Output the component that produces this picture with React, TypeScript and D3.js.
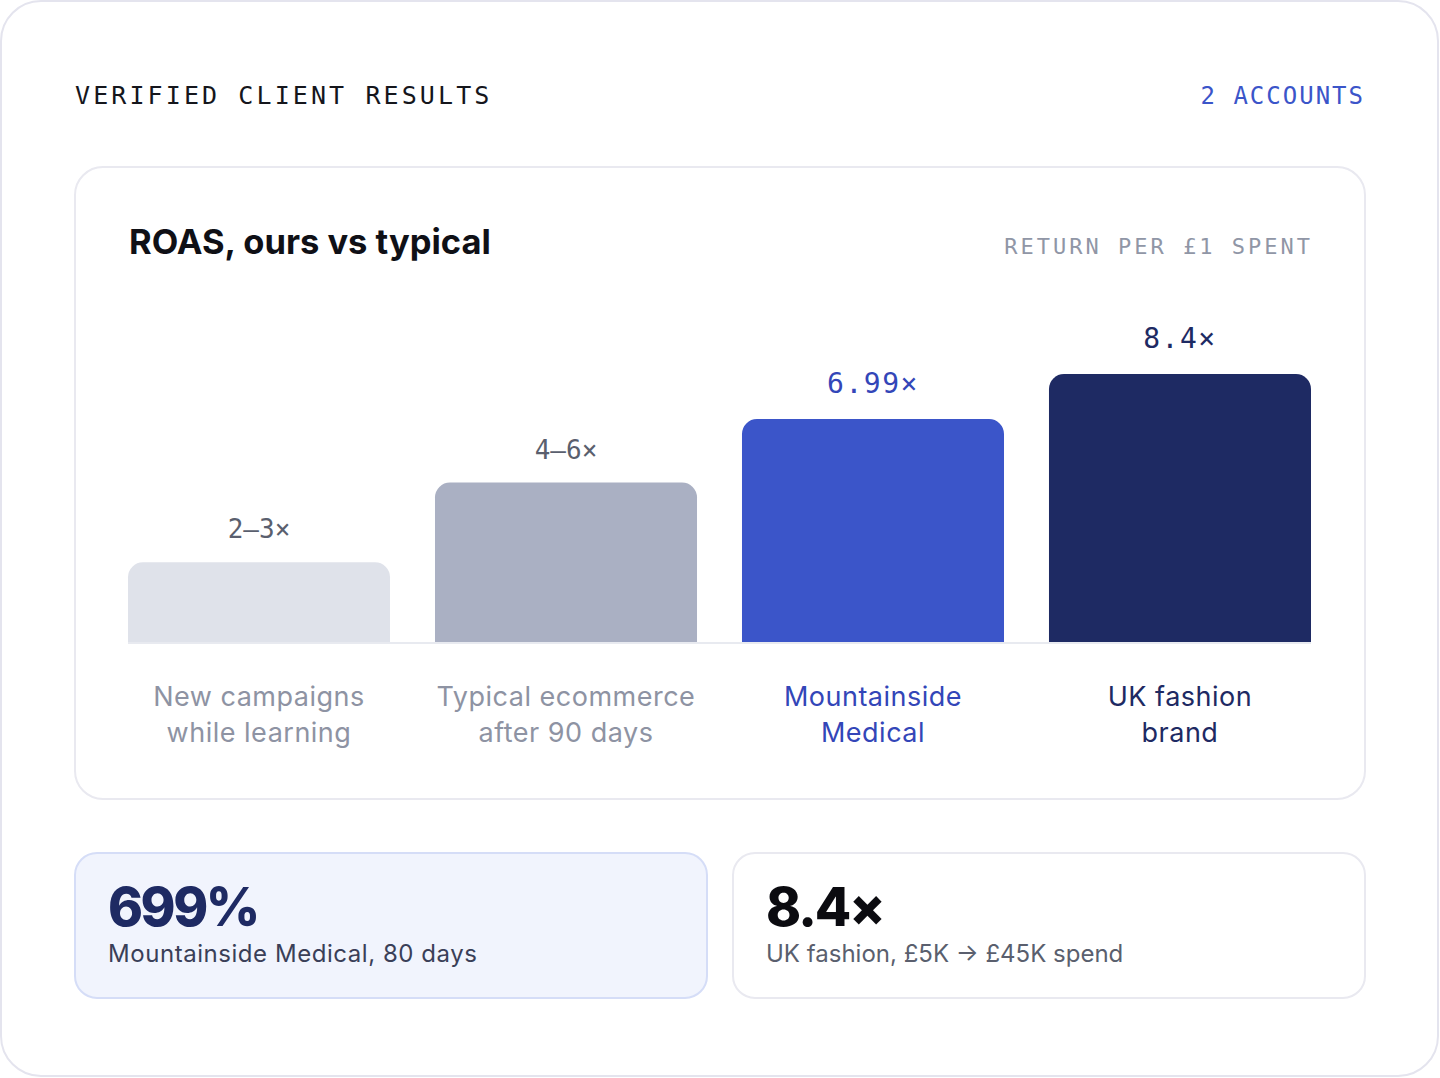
import * as d3 from "d3";

const categories = ["New campaigns|while learning", "Typical ecommerce|after 90 days", "Mountainside|Medical", "UK fashion|brand"];
const values = [2.5, 5, 6.99, 8.4];
const valueLabels = ["2–3×", "4–6×", "6.99×", "8.4×"];
const barColors = ["#dfe2ea", "#aab0c3", "#3b55c9", "#1e2a63"];
const labelColors = ["#8e93a3", "#8e93a3", "#3346b8", "#1e2a63"];
const valueColors = ["#5a5f6e", "#5a5f6e", "#3346b8", "#1e2a63"];

const statValues = ["699%", "8.4×"];
const statNotes = ["Mountainside Medical, 80 days", "UK fashion, £5K → £45K spend"];

const W = 1440;
const H = 1078;
const SANS = "Inter, 'Open Sans', sans-serif";
const MONO = "'DejaVu Sans Mono', 'Liberation Mono', monospace";

const PLOT = { left: 128, right: 1311, bottom: 642, top: 323 };

function topRounded(x: number, y: number, w: number, h: number, r: number) {
  const p = d3.path();
  p.moveTo(x, y + h);
  p.lineTo(x, y + r);
  p.arcTo(x, y, x + r, y, r);
  p.lineTo(x + w - r, y);
  p.arcTo(x + w, y, x + w, y + r, r);
  p.lineTo(x + w, y + h);
  p.closePath();
  return p.toString();
}

export default function App() {
  const x = d3
    .scaleBand<number>()
    .domain(d3.range(categories.length))
    .range([PLOT.left, PLOT.right])
    .paddingInner(0.1465)
    .paddingOuter(0);
  const y = d3.scaleLinear().domain([0, 10]).range([PLOT.bottom, PLOT.top]);
  const bw = x.bandwidth();

  return (
    <div>
      <style>{"body{margin:0}"}</style>
      <svg width={W} height={H} viewBox={`0 0 ${W} ${H}`} style={{ display: "block" }}>
        <rect x={1} y={1} width={W - 3} height={H - 3} rx={40} fill="#fff" stroke="#e4e4ee" strokeWidth={2} />

        <text x={75} y={104} fontFamily={MONO} fontSize={25} letterSpacing={3.1} fill="#15161c">
          VERIFIED CLIENT RESULTS
        </text>
        <text x={1365} y={104} textAnchor="end" fontFamily={MONO} fontSize={24} letterSpacing={2} fill="#3b55c9">
          2 ACCOUNTS
        </text>

        {/* chart card */}
        <rect x={75} y={167} width={1290} height={632} rx={28} fill="#fff" stroke="#e9e9f0" strokeWidth={2} />
        <text x={129} y={254} fontFamily={SANS} fontWeight={700} fontSize={34.5} fill="#0f1016">
          ROAS, ours vs typical
        </text>
        <text x={1313} y={254} textAnchor="end" fontFamily={MONO} fontSize={22} letterSpacing={3} fill="#9096a6">
          RETURN PER £1 SPENT
        </text>

        {values.map((v, i) => {
          const bx = x(i)!;
          const by = y(v);
          return (
            <g key={i}>
              <path d={topRounded(bx, by, bw, PLOT.bottom - by, 15)} fill={barColors[i]} />
              <text
                x={bx + bw / 2}
                y={by - (i < 2 ? 24 : 26)}
                textAnchor="middle"
                fontFamily={MONO}
                fontSize={i < 2 ? 26 : 28}
                letterSpacing={i < 2 ? 0 : 1.5}
                fontWeight={i < 2 ? 400 : 500}
                fill={valueColors[i]}
              >
                {valueLabels[i]}
              </text>
              {categories[i].split("|").map((line, j) => (
                <text
                  key={j}
                  x={bx + bw / 2}
                  y={706 + j * 36}
                  textAnchor="middle"
                  fontFamily={SANS}
                  fontSize={27}
                  letterSpacing={0.5}
                  fill={labelColors[i]}
                >
                  {line}
                </text>
              ))}
            </g>
          );
        })}
        <line x1={PLOT.left} x2={PLOT.right} y1={PLOT.bottom + 1} y2={PLOT.bottom + 1} stroke="#e8eaf0" strokeWidth={2} />

        {/* stat cards */}
        <rect x={75} y={853} width={632} height={145} rx={22} fill="#f1f4fd" stroke="#d5ddf7" strokeWidth={2} />
        <rect x={733} y={853} width={632} height={145} rx={22} fill="#fff" stroke="#e9e9f0" strokeWidth={2} />
        {statValues.map((s, i) => (
          <g key={i} transform={`translate(${i === 0 ? 108 : 766},0)`}>
            <text
              y={926}
              fontFamily={SANS}
              fontWeight={800}
              fontSize={53}
              letterSpacing={i === 0 ? -2.5 : -2}
              fill={i === 0 ? "#1e2a63" : "#0b0b10"}
            >
              {s}
            </text>
            <text
              y={962}
              fontFamily={SANS}
              fontSize={24}
              letterSpacing={i === 0 ? 0.55 : 0}
              fill={i === 0 ? "#3a3f58" : "#5a5f6e"}
            >
              {statNotes[i]}
            </text>
          </g>
        ))}
      </svg>
    </div>
  );
}
